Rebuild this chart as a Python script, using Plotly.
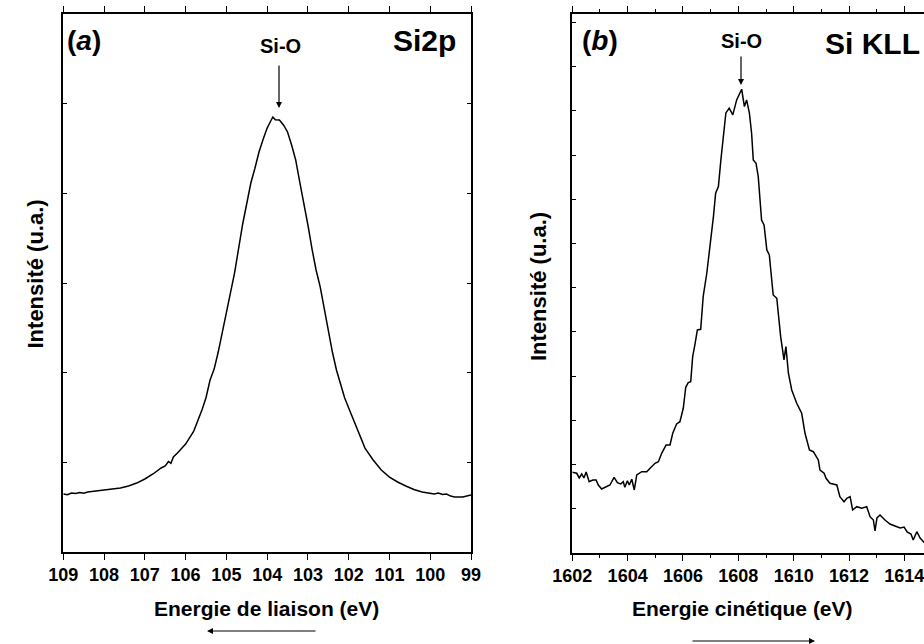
import plotly.graph_objects as go

# Panel (a): Si2p
be_a = [109.0, 108.9, 108.8, 108.7, 108.6, 108.5, 108.4, 108.3, 108.2, 108.0,
        107.8, 107.6, 107.4, 107.2, 107.0, 106.8, 106.6, 106.5, 106.42, 106.36,
        106.3, 106.2, 106.0, 105.8, 105.6, 105.5, 105.4, 105.3, 105.2, 105.0,
        104.8, 104.6, 104.5, 104.4, 104.3, 104.2, 104.1, 104.0, 103.9, 103.86,
        103.8, 103.7, 103.6, 103.5, 103.4, 103.3, 103.2, 103.1, 103.0, 102.9,
        102.8, 102.7, 102.6, 102.5, 102.4, 102.3, 102.2, 102.1, 102.0, 101.8,
        101.6, 101.4, 101.2, 101.0, 100.8, 100.6, 100.4, 100.2, 100.0, 99.9,
        99.8, 99.7, 99.6, 99.5, 99.4, 99.2, 99.0]
int_a = [64.7, 63.8, 65.8, 65.2, 66.4, 65.6, 66.9, 67.2, 68.0, 69.1,
         70.2, 71.4, 73.6, 76.9, 81.4, 87.0, 93.7, 96.0, 101.0, 99.0,
         106.0, 110.4, 120.4, 134.9, 158.4, 172.0, 191.8, 204.0, 223.0, 265.4,
         311.1, 365.8, 388.0, 411.5, 428.0, 446.1, 460.0, 472.8, 481.8, 485.1,
         482.0, 481.8, 476.3, 468.4, 453.9, 437.2, 412.6, 390.0, 364.7, 338.0,
         314.5, 296.0, 272.1, 246.0, 223.0, 203.0, 187.3, 172.0, 160.6, 137.2,
         115.9, 102.6, 91.4, 83.6, 78.1, 73.6, 69.7, 66.9, 65.8, 64.8,
         65.8, 64.2, 64.7, 62.4, 61.3, 61.3, 63.6]

# Panel (b): Si KLL
ke_b = [1602.00, 1602.16, 1602.25, 1602.34, 1602.42, 1602.50, 1602.61, 1602.74, 1602.86, 1602.94,
        1603.06, 1603.24, 1603.36, 1603.51, 1603.63, 1603.75, 1603.84, 1603.90, 1603.99, 1604.06,
        1604.15, 1604.24, 1604.33, 1604.51, 1604.69, 1604.81, 1604.99, 1605.11, 1605.23, 1605.39,
        1605.53, 1605.63, 1605.77, 1605.89, 1606.01, 1606.10, 1606.19, 1606.28, 1606.35, 1606.43,
        1606.52, 1606.64, 1606.73, 1606.86, 1606.98, 1607.10, 1607.18, 1607.28, 1607.37, 1607.55,
        1607.67, 1607.80, 1607.94, 1608.12, 1608.22, 1608.30, 1608.40, 1608.48, 1608.54, 1608.64,
        1608.72, 1608.84, 1608.93, 1609.03, 1609.12, 1609.26, 1609.39, 1609.53, 1609.65, 1609.72,
        1609.81, 1609.93, 1610.11, 1610.29, 1610.41, 1610.57, 1610.71, 1610.89, 1610.95, 1611.10,
        1611.17, 1611.31, 1611.56, 1611.67, 1611.82, 1611.92, 1612.04, 1612.13, 1612.28, 1612.46,
        1612.64, 1612.76, 1612.88, 1612.94, 1613.01, 1613.12, 1613.30, 1613.48, 1613.66, 1613.85,
        1613.99, 1614.10, 1614.24, 1614.32, 1614.45, 1614.57, 1614.69, 1614.78, 1614.93]
int_b = [182.5, 180.3, 169.7, 178.7, 169.7, 183.2, 161.3, 165.1, 165.1, 153.8,
         144.8, 150.0, 153.8, 171.2, 159.0, 156.1, 161.3, 148.6, 163.5, 153.8,
         166.7, 142.5, 176.4, 183.9, 183.9, 191.6, 202.9, 206.5, 225.5, 244.3,
         244.3, 270.8, 291.8, 297.0, 327.3, 374.8, 385.2, 387.5, 444.0, 470.5,
         504.4, 506.0, 579.8, 632.7, 692.8, 760.7, 813.6, 828.6, 889.0, 995.3,
         1005.9, 990.8, 1024.7, 1048.9, 1009.5, 1024.7, 994.6, 949.4, 889.0, 881.5,
         851.2, 753.2, 741.9, 685.4, 674.1, 583.6, 576.1, 489.3, 436.6, 466.7,
         406.5, 368.7, 338.6, 316.0, 270.8, 233.0, 229.1, 210.4, 187.7, 180.3,
         169.0, 157.7, 153.8, 127.4, 116.0, 123.7, 127.4, 97.3, 104.7, 101.1,
         104.7, 82.1, 74.6, 49.8, 79.2, 86.0, 74.6, 65.6, 61.1, 56.6,
         58.8, 47.5, 43.0, 29.4, 48.2, 33.9, 25.6, 20.4, 15.8]

xticks_a = [109, 108, 107, 106, 105, 104, 103, 102, 101, 100, 99]
xticks_b = [1602, 1604, 1606, 1608, 1610, 1612, 1614, 1616]

W, H = 924, 644
FONT = "Liberation Sans, Arial, Helvetica, sans-serif"

fig = go.Figure()
fig.add_trace(go.Scatter(x=be_a, y=int_a, mode="lines",
                         line=dict(color="black", width=1.5),
                         xaxis="x", yaxis="y", showlegend=False))
fig.add_trace(go.Scatter(x=ke_b, y=int_b, mode="lines",
                         line=dict(color="black", width=1.5),
                         xaxis="x2", yaxis="y2", showlegend=False))

tickfont = dict(family=FONT, size=18, color="black", weight="bold")
common_axis = dict(showgrid=False, zeroline=False, showline=True,
                   linecolor="black", linewidth=1.5, tickcolor="black",
                   tickwidth=1.2, automargin=False)

fig.update_layout(
    template="none",
    width=W, height=H,
    margin=dict(l=0, r=0, t=0, b=0, pad=0),
    paper_bgcolor="white", plot_bgcolor="white",
    xaxis=dict(domain=[63.3 / W, 471 / W], range=[109, 99], anchor="y",
               tickmode="array", tickvals=xticks_a,
               ticktext=[str(v) for v in xticks_a],
               ticks="outside", ticklen=6, mirror="ticks",
               ticklabeloverflow="allow",
               tickfont=tickfont, **common_axis),
    yaxis=dict(domain=[92 / H, 630 / H], range=[0, 600], anchor="x",
               dtick=100, tick0=0, ticks="inside", ticklen=4,
               mirror="ticks", showticklabels=False, **common_axis),
    xaxis2=dict(domain=[572.3 / W, 1.0], range=[1602, 1614.71], anchor="y2",
                tickmode="array", tickvals=xticks_b,
                ticktext=[str(v) for v in xticks_b],
                ticks="outside", ticklen=6, mirror="ticks",
                ticklabeloverflow="allow",
                minor=dict(dtick=1, tick0=1603, ticks="outside", ticklen=3,
                           tickcolor="black", tickwidth=1.2),
                tickfont=tickfont, **common_axis),
    yaxis2=dict(domain=[91 / H, 630 / H], range=[0, 1219], anchor="x2",
                dtick=100, tick0=0, ticks="inside", ticklen=4,
                mirror=False, showticklabels=False, **common_axis),
)

def txt(x, y, s, size, xanchor="center"):
    fig.add_annotation(x=x / W, y=1 - y / H, xref="paper", yref="paper",
                       text=s, showarrow=False, xanchor=xanchor, yanchor="middle",
                       font=dict(family=FONT, size=size, color="black", weight="bold"))

# Axis titles
txt(266, 608, "Energie de liaison (eV)", 21)
txt(742, 608, "Energie cinétique (eV)", 21)
fig.add_annotation(x=20 / W, y=1 - 274 / H, xref="paper", yref="paper",
                   text="Intensité (u.a.)", showarrow=False, textangle=-90,
                   font=dict(family=FONT, size=22, color="black", weight="bold"))
fig.add_annotation(x=538 / W, y=1 - 287 / H, xref="paper", yref="paper",
                   text="Intensité (u.a.)", showarrow=False, textangle=-90,
                   font=dict(family=FONT, size=22, color="black", weight="bold"))

# Panel labels
txt(65, 40, "(<i>a</i>)", 28, xanchor="left")
txt(580, 40, "(<i>b</i>)", 28, xanchor="left")
txt(424, 40, "Si2p", 30)
txt(872, 43, "Si KLL", 30)
txt(280, 46, "Si-O", 20)
txt(741, 41, "Si-O", 20)

def arrow(x_head, y_head, ax, ay):
    fig.add_annotation(x=x_head / W, y=1 - y_head / H, xref="paper", yref="paper",
                       ax=ax, ay=ay, axref="pixel", ayref="pixel",
                       text="", showarrow=True, arrowhead=2, arrowsize=1,
                       arrowwidth=1.2, arrowcolor="black")

arrow(279, 108, 0, -44)
arrow(741, 85, 0, -30)
arrow(207, 631, 110, 0)
arrow(815, 641, -124, 0)

fig.write_html("out.html",
               config={"displayModeBar": False},
               post_script="document.body.style.margin='0px';document.body.style.overflow='hidden';")
